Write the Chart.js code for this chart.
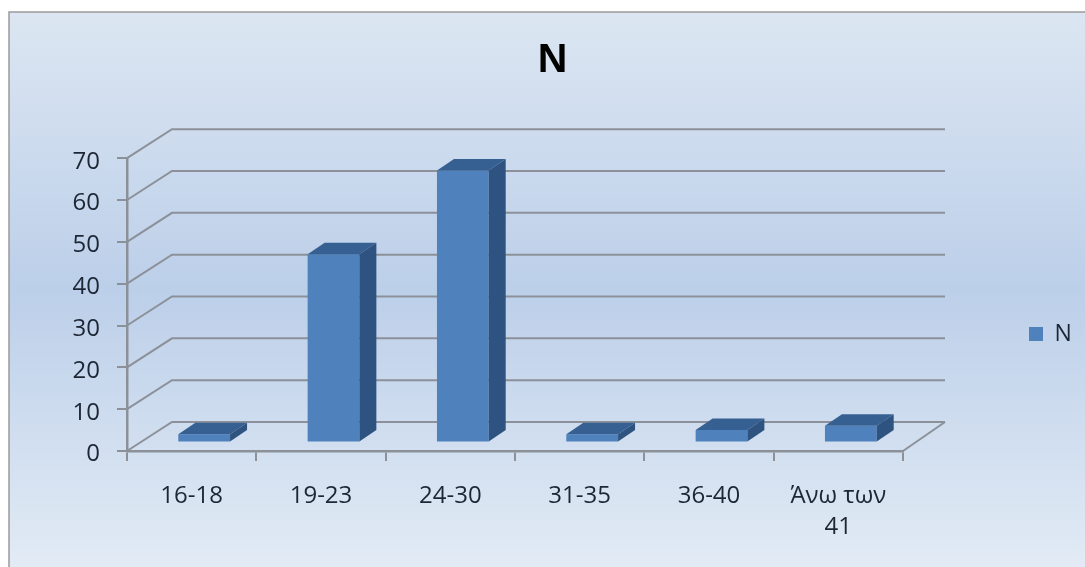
<!DOCTYPE html>
<html><head><meta charset="utf-8">
<style>html,body{margin:0;padding:0;background:#fff}#w{position:relative;width:1085px;height:567px}</style>
<script src="https://cdn.jsdelivr.net/npm/chart.js@4"></script>
</head><body><div id="w"><canvas id="c"></canvas></div>
<script>
const categories = ['16-18','19-23','24-30','31-35','36-40',['Άνω των','41']];
const seriesName = 'N';
const seriesValues = [2,45,65,2,3,4];
const FONT = '"Open Sans"';
const TXT = '#1d2635', AX = '#8c9199';
const wallDX = 45, wallDXR = 42, wallDY = 29;
const barShiftX = 12.5, barShiftY = -8.5, barDX = 17, barDY = -11.5;

const threeD = {
  id:'threeD',
  beforeDraw(chart){
    const {ctx,width,height} = chart;
    ctx.save();
    ctx.fillStyle='#fff'; ctx.fillRect(0,0,width,height);
    const g = ctx.createLinearGradient(0,12,0,height);
    g.addColorStop(0,'#dce6f2'); g.addColorStop(.5,'#bccfe9'); g.addColorStop(1,'#e2ebf5');
    ctx.fillStyle=g; ctx.fillRect(9,12,width-9,height-12);
    ctx.strokeStyle='#9a9a9a'; ctx.lineWidth=1.5;
    ctx.beginPath(); ctx.moveTo(9,height); ctx.lineTo(9,12); ctx.lineTo(width,12); ctx.stroke();
    ctx.restore();
  },
  beforeDatasetsDraw(chart){
    const {ctx,scales:{x,y}} = chart;
    ctx.save(); ctx.strokeStyle=AX; ctx.lineWidth=2;
    y.ticks.forEach(t=>{
      const p=y.getPixelForValue(t.value);
      ctx.beginPath(); ctx.moveTo(x.left,p); ctx.lineTo(x.left+wallDX,p-wallDY); ctx.lineTo(x.right+wallDXR,p-wallDY); ctx.stroke();
    });
    const b=y.getPixelForValue(0);
    ctx.beginPath(); ctx.moveTo(x.right,b); ctx.lineTo(x.right+wallDXR,b-wallDY); ctx.stroke();
    ctx.restore();
  },
  beforeDatasetDraw(chart){
    chart.ctx.save(); chart.ctx.translate(barShiftX,barShiftY);
  },
  afterDatasetDraw(chart,args){
    const ctx=chart.ctx;
    args.meta.data.forEach(e=>{
      const l=e.x-e.width/2,r=e.x+e.width/2,t=e.y,b=e.base;
      ctx.fillStyle='#376092';
      ctx.beginPath();ctx.moveTo(l,t);ctx.lineTo(l+barDX,t+barDY);ctx.lineTo(r+barDX,t+barDY);ctx.lineTo(r,t);ctx.closePath();ctx.fill();
      ctx.fillStyle='#2f5380';
      ctx.beginPath();ctx.moveTo(r,t);ctx.lineTo(r+barDX,t+barDY);ctx.lineTo(r+barDX,b+barDY);ctx.lineTo(r,b);ctx.closePath();ctx.fill();
    });
    ctx.restore();
  },
  beforeLayout(chart){
    const lg=chart.legend;
    if(lg && !lg._wrapped){
      lg._wrapped=true;
      const fit=lg.fit, draw=lg.draw;
      lg.fit=function(){fit.call(this); this.width=182;};
      lg.draw=function(){
        const c=this.ctx; c.save();
        c.translate(1029-(this.legendHitBoxes[0]?this.legendHitBoxes[0].left:0),334-(this.legendHitBoxes[0]?this.legendHitBoxes[0].top+this.legendHitBoxes[0].height/2:0));
        draw.call(this); c.restore();
      };
    }
  }
};

new Chart(document.getElementById('c'),{
  type:'bar',
  data:{labels:categories,datasets:[{label:seriesName,data:seriesValues,backgroundColor:'#4f81bd',borderWidth:0,barPercentage:.4,categoryPercentage:1,clip:false}]},
  options:{
    responsive:true,maintainAspectRatio:false,animation:false,
    layout:{padding:{left:20,right:0,top:0,bottom:0}},
    plugins:{
      title:{display:true,text:seriesName,color:'#000',font:{family:'"Liberation Sans"',size:41,weight:'bold',lineHeight:1.2},padding:{top:36,bottom:73}},
      legend:{position:'right',labels:{boxWidth:14,boxHeight:14,padding:0,color:TXT,font:{family:FONT,size:23}}},
      tooltip:{enabled:false}
    },
    scales:{
      x:{
        afterFit(s){s.height=116;},
        grid:{display:true,drawOnChartArea:false,drawTicks:true,tickLength:10,color:AX,lineWidth:2,offset:true},
        border:{color:AX,width:2.5},
        ticks:{color:TXT,padding:19.5,maxRotation:0,minRotation:0,autoSkip:false,font:{family:FONT,size:24,lineHeight:1.3}}
      },
      y:{
        min:0,max:70,
        afterFit(s){s.width=107;},
        grid:{display:true,drawOnChartArea:false,drawTicks:true,tickLength:10,color:AX,lineWidth:2},
        border:{color:AX,width:2.5},
        ticks:{stepSize:10,color:TXT,padding:17,labelOffset:3.5,font:{family:FONT,size:24}}
      }
    }
  },
  plugins:[threeD]
});
</script></body></html>
